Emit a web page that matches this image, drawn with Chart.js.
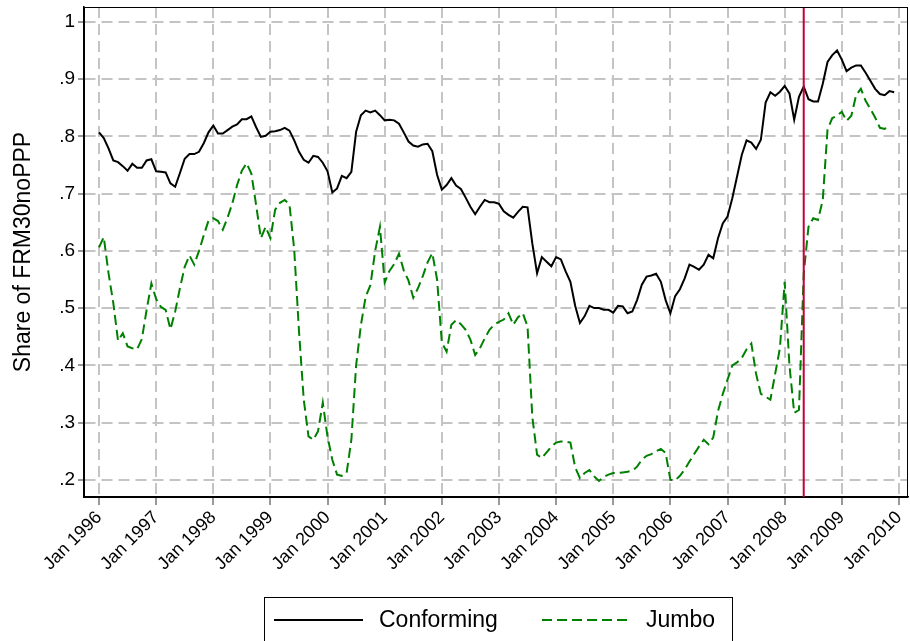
<!DOCTYPE html>
<html lang="en">
<head>
<meta charset="UTF-8" />
<title>Share of FRM30noPPP</title>
<style>
  html, body { margin: 0; padding: 0; background: #fff; }
  #wrap { position: relative; width: 910px; height: 641px; }
</style>
</head>
<body>
<div id="wrap"><canvas id="shareChart" width="910" height="641"></canvas></div>
<script src="https://cdn.jsdelivr.net/npm/chart.js"></script>
<script>
  // monthly series, first value = Jan 1996
  const startYear = 1996;
  const yearTicks = [1996, 1997, 1998, 1999, 2000, 2001, 2002, 2003, 2004, 2005, 2006, 2007, 2008, 2009, 2010];
  const yTicks = [0.2, 0.3, 0.4, 0.5, 0.6, 0.7, 0.8, 0.9, 1];
  const eventMonth = 148; // May 2008 (red line)

  const conforming = [
    0.807, 0.797, 0.779, 0.758, 0.755, 0.748, 0.740, 0.752, 0.745, 0.745,
    0.758, 0.760, 0.739, 0.738, 0.737, 0.718, 0.712, 0.736, 0.761, 0.769,
    0.769, 0.773, 0.788, 0.807, 0.819, 0.805, 0.805, 0.811, 0.817, 0.821,
    0.830, 0.830, 0.835, 0.816, 0.799, 0.801, 0.808, 0.809, 0.811, 0.815,
    0.810, 0.793, 0.773, 0.759, 0.754, 0.766, 0.764, 0.754, 0.739, 0.702,
    0.709, 0.731, 0.727, 0.738, 0.808, 0.837, 0.845, 0.842, 0.845, 0.837,
    0.828, 0.829, 0.828, 0.822, 0.807, 0.791, 0.784, 0.782, 0.786, 0.787,
    0.774, 0.733, 0.707, 0.715, 0.727, 0.714, 0.708, 0.693, 0.677, 0.664,
    0.677, 0.689, 0.685, 0.685, 0.682, 0.669, 0.663, 0.658, 0.668, 0.677,
    0.676, 0.613, 0.561, 0.589, 0.581, 0.573, 0.589, 0.585, 0.564, 0.546,
    0.504, 0.474, 0.486, 0.504, 0.500, 0.500, 0.497, 0.497, 0.492, 0.504,
    0.503, 0.491, 0.494, 0.514, 0.541, 0.555, 0.557, 0.560, 0.546, 0.514,
    0.491, 0.521, 0.533, 0.552, 0.576, 0.572, 0.567, 0.576, 0.593, 0.587,
    0.622, 0.648, 0.660, 0.692, 0.730, 0.768, 0.793, 0.789, 0.778, 0.794,
    0.859, 0.877, 0.871, 0.878, 0.888, 0.875, 0.829, 0.869, 0.887, 0.865,
    0.861, 0.861, 0.892, 0.930, 0.942, 0.950, 0.934, 0.914, 0.920, 0.924,
    0.924, 0.911, 0.897, 0.883, 0.874, 0.872, 0.879, 0.877
  ];

  const jumbo = [
    0.606, 0.624, 0.561, 0.509, 0.443, 0.456, 0.433, 0.430, 0.428, 0.446,
    0.497, 0.543, 0.516, 0.502, 0.497, 0.463, 0.494, 0.535, 0.572, 0.592,
    0.576, 0.600, 0.627, 0.653, 0.657, 0.652, 0.637, 0.658, 0.683, 0.715,
    0.740, 0.753, 0.735, 0.680, 0.622, 0.642, 0.622, 0.672, 0.684, 0.689,
    0.681, 0.602, 0.460, 0.340, 0.276, 0.270, 0.285, 0.335, 0.275, 0.235,
    0.209, 0.207, 0.212, 0.270, 0.400, 0.470, 0.520, 0.540, 0.600, 0.642,
    0.545, 0.565, 0.577, 0.595, 0.566, 0.548, 0.518, 0.535, 0.556, 0.580,
    0.596, 0.550, 0.440, 0.424, 0.471, 0.479, 0.472, 0.462, 0.445, 0.418,
    0.430, 0.447, 0.462, 0.471, 0.476, 0.480, 0.491, 0.471, 0.484, 0.491,
    0.468, 0.310, 0.244, 0.238, 0.248, 0.258, 0.265, 0.267, 0.267, 0.265,
    0.222, 0.203, 0.212, 0.217, 0.206, 0.198, 0.205, 0.209, 0.212, 0.212,
    0.213, 0.214, 0.216, 0.223, 0.235, 0.242, 0.245, 0.250, 0.254, 0.247,
    0.200, 0.199, 0.207, 0.218, 0.232, 0.245, 0.258, 0.270, 0.262, 0.274,
    0.320, 0.350, 0.375, 0.400, 0.405, 0.413, 0.428, 0.438, 0.385, 0.350,
    0.345, 0.340, 0.385, 0.430, 0.546, 0.400, 0.317, 0.322, 0.560, 0.642,
    0.657, 0.654, 0.689, 0.812, 0.832, 0.836, 0.843, 0.827, 0.836, 0.872,
    0.883, 0.862, 0.848, 0.833, 0.815, 0.813, 0.820
  ];

  const FONT = '"Liberation Sans", Arial, Helvetica, sans-serif';
  const gridColor = "#c4c4c4";

  // red line, frame and the boxed legend
  const extrasPlugin = {
    id: "extras",
    afterDatasetsDraw(chart) {
      const { ctx, chartArea: a, scales } = chart;
      const ex = scales.x.getPixelForValue(eventMonth);
      ctx.save();
      ctx.strokeStyle = "#c4003a";
      ctx.lineWidth = 2;
      ctx.beginPath();
      ctx.moveTo(ex, a.top);
      ctx.lineTo(ex, a.bottom);
      ctx.stroke();
      ctx.strokeStyle = "#000";
      ctx.lineWidth = 1;
      ctx.strokeRect(a.left + 0.5, a.top + 0.5, a.width - 1, a.height);
      ctx.restore();
    },
    afterDraw(chart) {
      const ctx = chart.ctx;
      const ds = chart.data.datasets;
      ctx.save();
      ctx.strokeStyle = "#000";
      ctx.lineWidth = 1;
      ctx.strokeRect(264.5, 597.5, 468, 60);
      const y = 620;
      const items = [
        { x: 274, tx: 379, d: ds[0] },
        { x: 542, tx: 646, d: ds[1] }
      ];
      items.forEach((it) => {
        ctx.strokeStyle = it.d.borderColor;
        ctx.lineWidth = 2;
        ctx.setLineDash(it.d.borderDash || []);
        ctx.beginPath();
        ctx.moveTo(it.x, y);
        ctx.lineTo(it.x + 89, y);
        ctx.stroke();
        ctx.setLineDash([]);
        ctx.fillStyle = "#000";
        ctx.font = "23px " + FONT;
        ctx.textBaseline = "middle";
        ctx.fillText(it.d.label, it.tx, y + 1);
      });
      ctx.restore();
    }
  };

  const gridOpts = (tickLen) => ({
    color: gridColor,
    lineWidth: 2,
    tickColor: "#333",
    tickLength: tickLen,
    tickWidth: 1,
    tickBorderDash: []
  });

  const ctx = document.getElementById("shareChart").getContext("2d");
  new Chart(ctx, {
    type: "line",
    data: {
      datasets: [
        {
          label: "Conforming",
          data: conforming.map((v, i) => ({ x: i, y: v })),
          borderColor: "#000000",
          borderWidth: 2,
          pointRadius: 0,
          tension: 0,
          fill: false
        },
        {
          label: "Jumbo",
          data: jumbo.map((v, i) => ({ x: i, y: v })),
          borderColor: "#008000",
          borderWidth: 2,
          borderDash: [10, 5],
          pointRadius: 0,
          tension: 0,
          fill: false
        }
      ]
    },
    options: {
      responsive: false,
      animation: false,
      devicePixelRatio: 1,
      layout: { padding: { top: 7, right: 2, bottom: 44, left: 0 } },
      plugins: { legend: { display: false }, tooltip: { enabled: false } },
      scales: {
        x: {
          type: "linear",
          min: -3.15,
          max: 169.9,
          afterBuildTicks: (s) => {
            s.ticks = yearTicks.map((yr) => ({ value: (yr - startYear) * 12 }));
          },
          afterFit: (s) => {
            s.height = 100;
            s.paddingLeft = 0;
            s.paddingRight = 0;
          },
          ticks: {
            autoSkip: false,
            minRotation: 45,
            maxRotation: 45,
            padding: 2,
            color: "#000",
            font: { family: FONT, size: 18 },
            callback: (v) => "Jan " + (startYear + Math.round(v / 12))
          },
          grid: gridOpts(8),
          // in v4 the grid-line dash is read from border.dash
          border: { display: true, color: "#000", width: 1.5, dash: [11, 6] }
        },
        y: {
          type: "linear",
          min: 0.17,
          max: 1.026,
          afterBuildTicks: (s) => {
            s.ticks = yTicks.map((v) => ({ value: v }));
          },
          afterFit: (s) => {
            s.width = 84;
            s.paddingTop = 0;
            s.paddingBottom = 0;
          },
          ticks: {
            padding: 3,
            color: "#000",
            font: { family: FONT, size: 19 },
            callback: (v) => (v >= 0.999 ? "1" : "." + Math.round(v * 10))
          },
          title: {
            display: true,
            text: "Share of FRM30noPPP",
            color: "#000",
            font: { family: FONT, size: 23 },
            padding: { top: 10, bottom: 0 }
          },
          grid: gridOpts(6),
          border: { display: true, color: "#000", width: 1.5, dash: [11, 6] }
        }
      }
    },
    plugins: [extrasPlugin]
  });
</script>
</body>
</html>
